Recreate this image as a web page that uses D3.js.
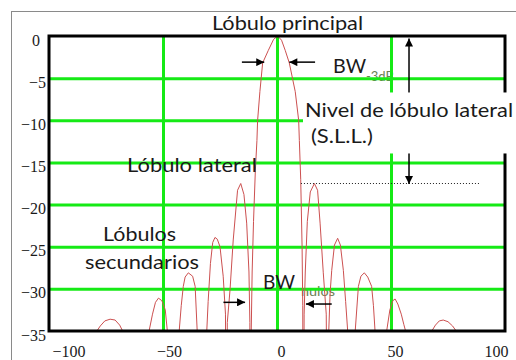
<!DOCTYPE html>
<html>
<head>
<meta charset="utf-8">
<script src="https://cdn.jsdelivr.net/npm/d3@7"></script>
<style>
  body { margin: 0; background: #fff; }
</style>
</head>
<body>
<svg id="grafico"></svg>
<script>
var angulos = [
  -79.4, -79.0, -77.5, -75.5, -73.2, -71.0, -69.0, -67.7, -67.3,
  -56.5, -56.1, -54.6, -53.3, -52.0, -50.5, -49.0, -48.1, -47.7,
  -43.3, -42.9, -42.0, -41.1, -40.3, -38.9, -37.0, -35.9, -35.0, -34.6,
  -31.2, -30.8, -30.2, -29.2, -28.2, -27.2, -26.2, -25.0, -23.6, -22.6, -22.1,
  -21.8, -20.6, -19.2, -17.3, -15.9, -14.5, -13.3, -12.3, -11.9, -11.7,
  -11.3, -10.9, -10.3, -9.5, -8.8, -8.5, -7.5, -6.3, -3.8, -1.5, 0.3,
  2.0, 3.6, 5.4, 8.0, 9.5, 9.8, 10.4, 11.0, 11.3, 11.5,
  11.9, 12.4, 13.3, 14.6, 16.4, 17.8, 18.9, 20.3, 21.6, 22.3,
  22.7, 23.3, 24.0, 25.2, 26.6, 27.8, 29.1, 30.1, 31.0, 31.4,
  33.9, 34.3, 35.7, 36.8, 38.3, 39.8, 41.5, 42.3, 43.0, 43.4,
  47.7, 48.1, 49.5, 50.8, 51.8, 53.0, 54.5, 55.6, 56.4, 56.8,
  67.5, 67.9, 69.5, 71.2, 72.9, 75.0, 77.0, 78.6, 79.0
];
var niveles = [
  -60, -35, -34.4, -33.8, -33.6, -33.7, -34.3, -35, -60,
  -60, -35, -33, -31.6, -31.1, -31.4, -32.5, -35, -60,
  -60, -35, -32, -29.7, -28.6, -28.1, -28.5, -29.7, -35, -60,
  -60, -35, -31.5, -27.0, -24.5, -23.9, -24.1, -25.0, -28.5, -33, -60,
  -34, -30.1, -24.2, -18.3, -17.5, -18.8, -22.2, -28, -34, -60,
  -35, -28, -22, -16, -12.4, -10, -6.6, -3.2, -1.7, -0.4, 0,
  -0.5, -1.7, -3.2, -6.6, -10, -12.4, -17, -25, -32, -60,
  -33, -28, -22, -18.5, -17.5, -18.3, -22.2, -28.1, -33, -60,
  -35, -30.5, -27.8, -24.8, -24.0, -24.8, -27.8, -31.5, -35, -60,
  -60, -35, -29.7, -28.5, -28.1, -28.6, -29.7, -32, -35, -60,
  -60, -35, -32.5, -31.4, -31.2, -31.8, -33, -34.2, -35, -60,
  -60, -35, -34.3, -33.8, -33.7, -33.9, -34.4, -35, -60
];

//Marcas de los ejes y rejilla
var ticksX = [-100, -50, 0, 50, 100];
var ticksY = [0, -5, -10, -15, -20, -25, -30, -35];
var rejillaX = [-50, 0, 50];
var rejillaY = [-5, -10, -15, -20, -25, -30];

//Medidas marcadas en el diagrama
var nivelSLL = -17.5;
var bordesBW3dB = [-5.6, 5.4];
var bordesBWnulos = [-14, 12.7];

function DiagramaRadiacion(parametros) {

    var fuenteSerif = "Liberation Serif";
    var fuenteSans = "Lato, 'Open Sans', sans-serif";

    //Selección del SVG
    var svg = d3.select(parametros.seletor)
                .attr('width', parametros.largura)
                .attr('height', parametros.altura);

    var margen = {
        izquierda: 49,
        derecha: 11,
        superior: 36,
        inferior: 29
    };

    var anchoPlot = parametros.largura - margen.izquierda - margen.derecha;
    var altoPlot = parametros.altura - margen.superior - margen.inferior;

    //Fondo y marco exterior gris
    svg.append('rect')
        .attr('width', parametros.largura)
        .attr('height', parametros.altura)
        .attr('fill', '#fff');
    svg.append('rect')
        .attr('x', 11.5)
        .attr('y', 11.5)
        .attr('width', parametros.largura + 20)
        .attr('height', parametros.altura + 20)
        .attr('fill', 'none')
        .attr('stroke', '#8a8a8a')
        .attr('stroke-width', 1);

    var defs = svg.append('defs');
    defs.append('clipPath')
        .attr('id', 'recorte')
        .append('rect')
        .attr('x', 0)
        .attr('y', -4)
        .attr('width', anchoPlot)
        .attr('height', altoPlot + 4);
    defs.append('marker')
        .attr('id', 'flecha')
        .attr('viewBox', '0 0 10 10')
        .attr('refX', 10)
        .attr('refY', 5)
        .attr('markerWidth', 9)
        .attr('markerHeight', 8)
        .attr('markerUnits', 'userSpaceOnUse')
        .attr('orient', 'auto-start-reverse')
        .append('path')
        .attr('d', 'M0,0 L10,5 L0,10 z')
        .attr('fill', '#000');

    var plot = svg.append('g')
                  .attr('transform', 'translate(' + margen.izquierda + ',' + margen.superior + ')');

    //Escalas
    var x = d3.scaleLinear()
              .domain([-100, 100])
              .range([0, anchoPlot]);
    var y = d3.scaleLinear()
              .domain([-35, 0])
              .range([altoPlot, 0]);

    //Subíndices (quedan debajo de la rejilla)
    var subindices = [
        {texto: '-3dB', angulo: 39, nivel: -5.3, largo: 28},
        {texto: 'nulos', angulo: 10.5, nivel: -30.8, largo: 34}
    ];
    plot.selectAll('.subindice')
        .data(subindices)
        .enter()
        .append('text')
        .classed('subindice', true)
        .attr('x', d => x(d.angulo))
        .attr('y', d => y(d.nivel))
        .attr('textLength', d => d.largo)
        .attr('lengthAdjust', 'spacingAndGlyphs')
        .style('font-family', fuenteSans)
        .style('font-size', '13px')
        .style('fill', '#6b7f55')
        .text(d => d.texto);

    //Rejilla verde
    var verde = '#16ea16';
    plot.append('g')
        .call(d3.axisBottom(x).tickValues(rejillaX).tickSize(altoPlot).tickFormat(''))
        .call(g => g.select('.domain').remove())
        .selectAll('line')
        .attr('stroke', verde)
        .attr('stroke-width', 3);
    plot.append('g')
        .call(d3.axisRight(y).tickValues(rejillaY).tickSize(anchoPlot).tickFormat(''))
        .call(g => g.select('.domain').remove())
        .selectAll('line')
        .attr('stroke', verde)
        .attr('stroke-width', 3);

    //Curva del diagrama
    var puntos = angulos.map((a, i) => ({angulo: a, nivel: niveles[i]}));
    var linea = d3.line()
                  .x(d => x(d.angulo))
                  .y(d => y(d.nivel));
    plot.append('path')
        .datum(puntos)
        .attr('clip-path', 'url(#recorte)')
        .attr('d', linea)
        .attr('fill', 'none')
        .attr('stroke', '#cc5050')
        .attr('stroke-width', 1)
        .attr('stroke-linejoin', 'round');

    //Marco negro del área de trazado
    plot.append('rect')
        .attr('width', anchoPlot)
        .attr('height', altoPlot)
        .attr('fill', 'none')
        .attr('stroke', '#000')
        .attr('stroke-width', 3);

    //Línea punteada del nivel de lóbulo lateral
    plot.append('line')
        .attr('x1', x(10.5))
        .attr('x2', x(88.6))
        .attr('y1', y(nivelSLL))
        .attr('y2', y(nivelSLL))
        .attr('stroke', '#222')
        .attr('stroke-width', 1)
        .attr('stroke-dasharray', '1,2');

    //Flecha doble del S.L.L.
    plot.append('line')
        .attr('x1', x(57.9))
        .attr('x2', x(57.9))
        .attr('y1', y(-0.3))
        .attr('y2', y(nivelSLL - 0.05))
        .attr('stroke', '#000')
        .attr('stroke-width', 1.5)
        .attr('marker-start', 'url(#flecha)')
        .attr('marker-end', 'url(#flecha)');

    //Caja blanca detrás del texto del S.L.L.
    plot.append('rect')
        .attr('x', x(11.4))
        .attr('y', y(-6.7))
        .attr('width', 220)
        .attr('height', 61)
        .attr('fill', '#fff');

    //Flechas de anchos de haz
    var flechas = [
        {desde: -15.4, hasta: bordesBW3dB[0], nivel: -3.1},
        {desde: 16.7, hasta: bordesBW3dB[1], nivel: -3.1},
        {desde: -23.5, hasta: bordesBWnulos[0], nivel: -31.6},
        {desde: 24.0, hasta: bordesBWnulos[1], nivel: -31.8}
    ];
    plot.selectAll('.flechaBW')
        .data(flechas)
        .enter()
        .append('line')
        .classed('flechaBW', true)
        .attr('x1', d => x(d.desde))
        .attr('x2', d => x(d.hasta))
        .attr('y1', d => y(d.nivel))
        .attr('y2', d => y(d.nivel))
        .attr('stroke', '#000')
        .attr('stroke-width', 1.5)
        .attr('marker-end', 'url(#flecha)');

    //Etiquetas de los ejes
    var ejeX = plot.append('g')
        .attr('transform', 'translate(0,' + altoPlot + ')')
        .call(d3.axisBottom(x).tickValues(ticksX).tickSize(0).tickPadding(15).tickFormat(d3.format('d')))
        .attr('font-family', fuenteSerif)
        .attr('font-size', 16);
    ejeX.select('.domain').remove();
    ejeX.selectAll('text')
        .attr('fill', '#1a1a1a')
        .attr('text-anchor', d => d == -100 ? 'start' : (d == 100 ? 'end' : 'middle'))
        .attr('dx', d => d == -50 ? 6 : (d == -100 ? 3 : (d == 100 ? 3 : 4)));

    var ejeY = plot.append('g')
        .call(d3.axisLeft(y).tickValues(ticksY).tickSize(0).tickPadding(3).tickFormat(d3.format('d')))
        .attr('font-family', fuenteSerif)
        .attr('font-size', 16);
    ejeY.select('.domain').remove();
    ejeY.selectAll('text')
        .attr('fill', '#1a1a1a')
        .attr('dy', '0.57em')
        .attr('dx', d => d == 0 ? -6 : 0);

    //Textos de anotación
    var anotaciones = [
        {texto: 'Lóbulo principal', x: x(-28.5), y: -6, largo: 151},
        {texto: 'BW', x: x(24.6), y: y(-4.4), largo: 33},
        {texto: 'Nivel de lóbulo lateral', x: x(12.3), y: y(-9.6), largo: 208},
        {texto: '(S.L.L.)', x: x(14.9), y: y(-12.7), largo: 62},
        {texto: 'Lóbulo lateral', x: x(-65.8), y: y(-16.1), largo: 130},
        {texto: 'Lóbulos', x: x(-76.3), y: y(-24.3), largo: 73},
        {texto: 'secundarios', x: x(-84.2), y: y(-27.6), largo: 114},
        {texto: 'BW', x: x(-6.1), y: y(-30.0), largo: 32}
    ];
    plot.selectAll('.anotacion')
        .data(anotaciones)
        .enter()
        .append('text')
        .classed('anotacion', true)
        .attr('x', d => d.x)
        .attr('y', d => d.y)
        .attr('textLength', d => d.largo)
        .attr('lengthAdjust', 'spacingAndGlyphs')
        .style('font-family', fuenteSans)
        .style('font-size', '20px')
        .style('fill', '#1a1a1a')
        .text(d => d.texto);
}

new DiagramaRadiacion({
    seletor: '#grafico',
    largura: 516,
    altura: 360
});
</script>
</body>
</html>
